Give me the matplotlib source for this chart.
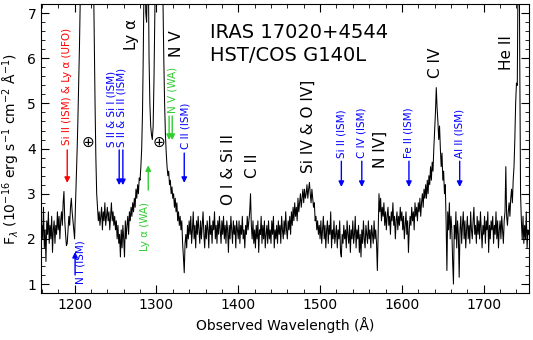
import numpy as np
import matplotlib
matplotlib.use("Agg")
import matplotlib.pyplot as plt
from matplotlib.ticker import MultipleLocator

# Observed wavelength grid (Angstrom, 1 A sampling) and flux (1e-16 erg/s/cm2/A)
wave = np.arange(1160, 1756, 1)
flux = np.array([
    2.3, 2.0, 2.7, 1.8, 2.2, 1.5, 2.4, 2.1, 2.6, 1.9,     # 1160
    2.3, 2.0, 2.5, 1.7, 2.2, 2.4, 1.9, 2.3, 2.1, 2.6,     # 1170
    2.2, 2.5, 2.0, 2.4, 2.6, 2.3, 2.8, 3.05, 2.4, 2.1,    # 1180
    1.85, 1.9, 2.2, 2.5, 2.3, 2.7, 2.9, 2.6, 2.4, 2.2,    # 1190
    2.0, 2.7, 3.3, 3.9, 4.6, 5.4, 6.3, 7.4, 8.8, 10.5,    # 1200
    12, 14, 16, 18, 19, 20, 20, 19, 18, 16,               # 1210
    14, 12, 10, 8.0, 6.5, 5.0, 3.8, 3.0, 2.7, 2.4,        # 1220
    2.6, 2.3, 2.5, 2.7, 2.2, 2.6, 2.4, 2.8, 2.3, 2.5,     # 1230
    2.7, 2.4, 2.6, 2.2, 2.5, 2.8, 2.4, 2.6, 2.3, 2.5,     # 1240
    2.2, 2.4, 2.0, 2.3, 1.9, 2.1, 1.6, 2.2, 1.8, 2.3,     # 1250
    2.0, 1.6, 2.4, 2.0, 2.3, 2.5, 2.1, 2.6, 2.4, 2.7,     # 1260
    2.5, 2.8, 2.6, 2.9, 2.7, 3.1, 2.9, 3.2, 3.0, 3.35,    # 1270
    3.3, 3.6, 4.0, 4.8, 6.2, 8.0, 8.5, 7.0, 6.8, 7.8,     # 1280
    8.2, 6.0, 5.0, 4.5, 4.3, 4.2, 4.5, 5.5, 6.8, 8.5,     # 1290
    10, 11.5, 13, 12, 11, 10, 9.0, 8.0, 7.3, 6.0,         # 1300
    5.0, 4.3, 3.9, 3.6, 3.4, 3.5, 3.2, 3.3, 3.0, 3.15,    # 1310
    2.9, 3.0, 2.7, 2.9, 2.6, 2.8, 2.4, 2.6, 2.3, 2.5,     # 1320
    2.2, 2.4, 1.9, 1.6, 1.25, 1.9, 2.1, 1.8, 2.3, 2.0,    # 1330
    2.4, 2.1, 2.5, 1.9, 2.2, 2.6, 2.0, 2.3, 1.8, 2.4,     # 1340
    2.1, 2.5, 2.2, 1.9, 2.4, 2.0, 2.3, 2.6, 2.1, 1.8,     # 1350
    2.3, 2.0, 2.4, 2.2, 1.8, 2.5, 2.1, 2.3, 1.9, 2.4,     # 1360
    2.2, 2.6, 2.0, 2.3, 1.9, 2.4, 2.1, 2.5, 2.2, 1.9,     # 1370
    2.4, 2.1, 2.5, 2.0, 2.3, 1.9, 2.4, 2.2, 1.7, 2.3,     # 1380
    2.0, 2.5, 2.2, 1.9, 2.4, 2.1, 2.3, 1.8, 2.4, 2.2,     # 1390
    2.0, 2.4, 1.9, 2.3, 2.1, 2.5, 2.0, 2.2, 1.8, 2.3,     # 1400
    2.1, 2.5, 2.2, 2.4, 2.6, 3.0, 2.3, 2.0, 2.4, 1.9,     # 1410
    2.2, 1.8, 2.3, 2.0, 2.4, 1.7, 2.2, 2.1, 2.5, 1.9,     # 1420
    2.3, 2.0, 2.4, 1.8, 2.1, 2.3, 1.9, 2.4, 2.0, 2.2,     # 1430
    1.9, 2.4, 2.1, 2.5, 1.8, 2.2, 2.0, 2.3, 1.9, 2.4,     # 1440
    2.1, 2.3, 1.9, 2.5, 2.2, 2.0, 2.4, 2.1, 2.6, 2.2,     # 1450
    2.0, 2.4, 2.2, 2.5, 2.1, 2.6, 2.3, 2.7, 2.4, 2.8,     # 1460
    2.5, 2.7, 2.4, 2.9, 2.6, 2.8, 3.0, 2.7, 2.9, 3.1,     # 1470
    2.8, 3.1, 2.9, 3.0, 3.2, 2.9, 3.1, 3.25, 3.0, 2.8,    # 1480
    3.1, 2.9, 2.7, 2.8, 2.4, 2.5, 2.2, 2.4, 2.1, 2.3,     # 1490
    2.0, 2.4, 1.9, 2.2, 2.5, 2.0, 2.3, 1.8, 2.2, 2.4,     # 1500
    1.9, 2.3, 2.1, 2.6, 1.8, 2.2, 2.0, 2.4, 1.9, 2.1,     # 1510
    2.3, 1.8, 2.2, 2.0, 2.4, 1.7, 1.6, 2.1, 1.9, 2.3,     # 1520
    2.0, 2.2, 1.8, 2.4, 2.1, 1.9, 2.3, 1.7, 2.2, 2.0,     # 1530
    2.4, 1.9, 2.1, 2.5, 1.8, 2.2, 2.0, 2.3, 1.7, 2.1,     # 1540
    1.6, 2.2, 1.9, 2.4, 2.0, 1.8, 2.3, 2.1, 1.9, 2.4,     # 1550
    2.0, 2.2, 1.8, 2.3, 2.1, 1.9, 2.4, 2.0, 2.2, 1.9,     # 1560
    1.3, 2.2, 3.0, 2.6, 2.9, 2.4, 2.7, 2.5, 2.8, 2.3,     # 1570
    2.6, 2.2, 2.5, 2.7, 2.3, 2.5, 2.1, 2.6, 2.4, 2.8,     # 1580
    2.3, 2.5, 2.0, 2.4, 2.6, 2.2, 2.5, 2.3, 2.7, 2.4,     # 1590
    2.6, 2.2, 2.5, 2.0, 2.3, 2.6, 2.1, 2.4, 1.7, 2.2,     # 1600
    2.5, 2.3, 2.7, 2.4, 2.6, 2.2, 2.8, 2.5, 2.7, 2.4,     # 1610
    2.8, 2.6, 2.9, 2.5, 2.8, 3.0, 2.7, 3.1, 2.9, 3.2,     # 1620
    2.9, 3.3, 3.0, 3.4, 3.2, 3.6, 3.3, 3.7, 3.5, 4.0,     # 1630
    4.4, 4.8, 5.35, 4.9, 4.6, 4.2, 4.5, 4.0, 3.6, 3.9,    # 1640
    3.3, 3.5, 3.0, 3.2, 2.4, 1.3, 2.6, 2.2, 2.8, 2.0,     # 1650
    2.5, 2.2, 1.5, 1.0, 2.3, 2.0, 2.6, 1.8, 2.4, 2.1,     # 1660
    1.15, 2.2, 2.5, 1.9, 2.3, 2.6, 2.0, 2.4, 1.8, 2.2,    # 1670
    2.5, 2.0, 2.3, 1.9, 2.6, 2.2, 2.0, 2.4, 2.7, 2.1,     # 1680
    2.3, 1.9, 2.5, 2.1, 2.4, 2.0, 2.6, 2.2, 1.8, 2.3,     # 1690
    2.1, 2.5, 1.9, 2.4, 2.2, 2.6, 1.7, 2.3, 2.0, 2.4,     # 1700
    2.2, 2.5, 1.9, 2.3, 2.1, 2.6, 2.0, 2.4, 1.8, 2.2,     # 1710
    2.4, 2.0, 2.5, 2.2, 1.9, 2.4, 2.6, 3.6, 2.5, 2.3,     # 1720
    2.6, 2.8, 2.5, 2.9, 3.1, 2.8, 3.3, 3.6, 4.2, 5.0,     # 1730
    5.45, 5.4, 8.0, 9.5, 6.0, 3.0, 2.4, 2.0, 2.5, 1.9,    # 1740
    2.3, 2.0, 2.6, 1.8, 2.2, 2.1,                         # 1750
])

# Emission-line labels (black)
em_labels = ["Ly α", "N V", "O I & Si II", "C II", "Si IV & O IV]", "N IV]", "C IV", "He II"]
em_wave = [1270, 1325, 1388, 1417, 1485, 1574, 1641, 1728]
em_y = [6.18, 6.03, 2.75, 3.35, 3.46, 3.57, 5.56, 5.74]

# Geocoronal markers
geo_wave = [1216, 1303]
geo_y = [4.14, 4.14]

# Downward absorption markers
down_labels = ["Si II (ISM) & Ly α (UFO)", "S II & Si I (ISM)", "S II & Si II (ISM)",
               "N V (WA)", "C II (ISM)", "Si II (ISM)", "C IV (ISM)", "Fe II (ISM)", "Al II (ISM)"]
down_text_x = [1191, 1245.5, 1257.5, 1320, 1335, 1526, 1551, 1608.6, 1670.6]
down_text_y = [4.08, 4.03, 4.03, 4.79, 4.0, 3.79, 3.79, 3.79, 3.79]
down_colors = ["red", "blue", "blue", "limegreen", "blue", "blue", "blue", "blue", "blue"]
arrow_x = [1191, 1254.5, 1259, 1315.5, 1319.3, 1334, 1526, 1551, 1608.6, 1670.6]
arrow_top = [3.97, 3.97, 3.97, 4.72, 4.72, 3.9, 3.72, 3.72, 3.72, 3.72]
arrow_tip = [3.24, 3.19, 3.19, 4.19, 4.19, 3.24, 3.15, 3.15, 3.15, 3.15]
arrow_colors = ["red", "blue", "blue", "limegreen", "limegreen", "blue", "blue", "blue", "blue", "blue"]

# Upward markers
up_labels = ["N I (ISM)", "Ly α (WA)"]
up_text_x = [1206.7, 1286.3]
up_text_top = [1.97, 2.82]
up_arrow_x = [1200.6, 1290]
up_arrow_bottom = [1.2, 3.08]
up_arrow_tip = [1.71, 3.63]
up_colors = ["blue", "limegreen"]

fig = plt.figure(figsize=(5.33, 3.40), dpi=100)
ax = fig.add_axes([0.077, 0.138, 0.915, 0.85])
ax.plot(wave, flux, color="black", lw=0.75)

ax.set_xlim(1159, 1755)
ax.set_ylim(0.8, 7.2)
ax.xaxis.set_major_locator(MultipleLocator(100))
ax.xaxis.set_minor_locator(MultipleLocator(20))
ax.yaxis.set_major_locator(MultipleLocator(1))
ax.yaxis.set_minor_locator(MultipleLocator(0.2))
ax.tick_params(which="both", direction="in", top=True, right=True, labelsize=10)
ax.tick_params(which="major", length=5.5)
ax.tick_params(which="minor", length=3)
ax.set_xlabel("Observed Wavelength (Å)", fontsize=10)
ax.set_ylabel(r"F$_\lambda$ (10$^{-16}$ erg s$^{-1}$ cm$^{-2}$ Å$^{-1}$)", fontsize=10)

ax.text(1366, 6.58, "IRAS 17020+4544", fontsize=14, ha="left", va="center")
ax.text(1366, 6.07, "HST/COS G140L", fontsize=14, ha="left", va="center")

for lab, x, y in zip(em_labels, em_wave, em_y):
    ax.text(x, y, lab, rotation=90, ha="center", va="bottom", fontsize=11)

for x, y in zip(geo_wave, geo_y):
    ax.text(x, y, "⊕", ha="center", va="center", fontsize=11)

for lab, x, y, c in zip(down_labels, down_text_x, down_text_y, down_colors):
    ax.text(x, y, lab, rotation=90, ha="center", va="bottom", fontsize=7.5, color=c)

for x, y0, y1, c in zip(arrow_x, arrow_top, arrow_tip, arrow_colors):
    ax.annotate("", xy=(x, y1), xytext=(x, y0),
                arrowprops=dict(arrowstyle="-|>", color=c, lw=1.0, mutation_scale=8,
                                shrinkA=0, shrinkB=0))

for lab, x, y, c in zip(up_labels, up_text_x, up_text_top, up_colors):
    ax.text(x, y, lab, rotation=90, ha="center", va="top", fontsize=7.5, color=c)

for x, y0, y1, c in zip(up_arrow_x, up_arrow_bottom, up_arrow_tip, up_colors):
    ax.annotate("", xy=(x, y1), xytext=(x, y0),
                arrowprops=dict(arrowstyle="-|>", color=c, lw=1.0, mutation_scale=8,
                                shrinkA=0, shrinkB=0))

fig.savefig("out.png", dpi=100)
